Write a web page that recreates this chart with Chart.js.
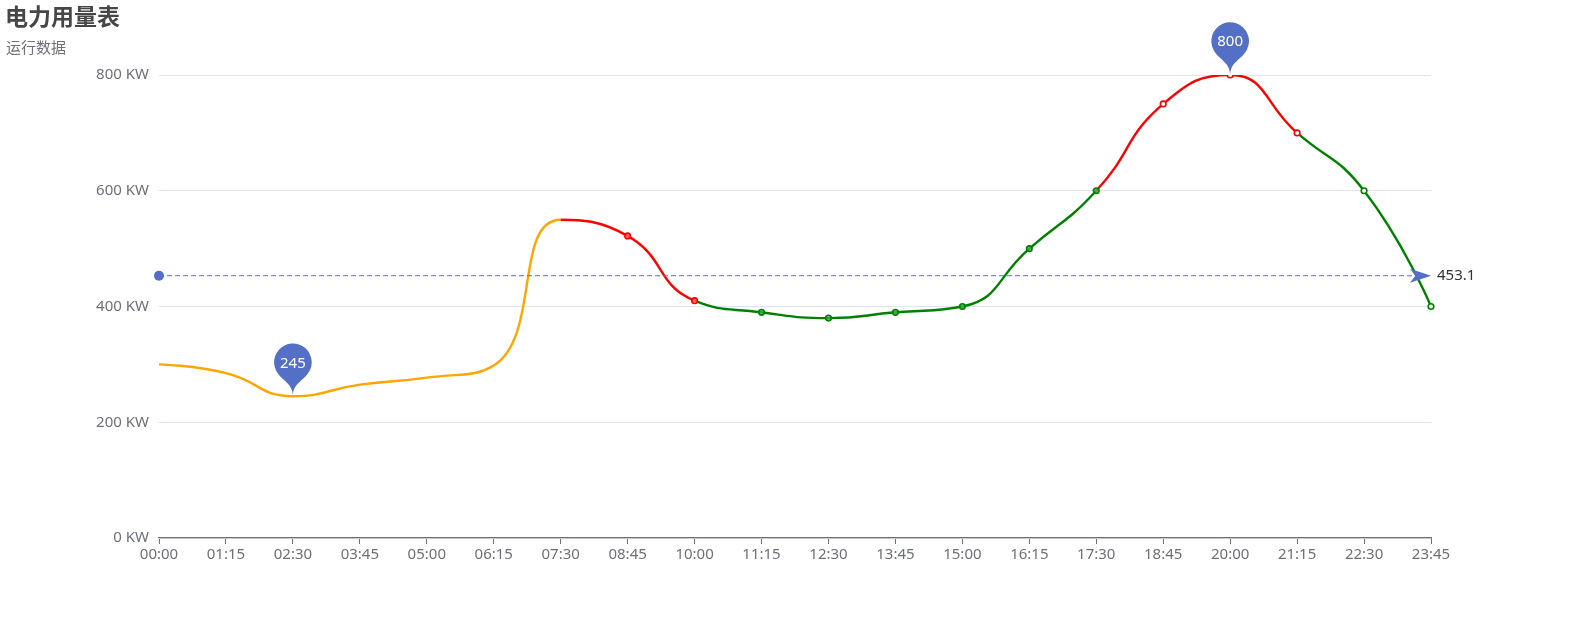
<!DOCTYPE html>
<html>
<head>
<meta charset="utf-8">
<script src="https://cdn.jsdelivr.net/npm/chart.js@4/dist/chart.umd.min.js"></script>
<style>
    body { margin: 0; background: #fff; }
    #wrap { width: 1590px; height: 625px; }
</style>
</head>
<body>
<div id="wrap"><canvas id="power_chart" width="1590" height="625"></canvas></div>
<script>
const times = ['00:00', '01:15', '02:30', '03:45', '05:00', '06:15', '07:30', '08:45', '10:00', '11:15',
    '12:30', '13:45', '15:00', '16:15', '17:30', '18:45', '20:00', '21:15', '22:30', '23:45'];
const usage = [300, 285, 245, 265, 277, 298, 550, 522, 410, 390, 380, 390, 400, 500, 600, 750, 800, 700, 600, 400];
const yTicks = [0, 200, 400, 600, 800];

// visualMap pieces (by data index)
const pieceLimits = [6, 8, 14, 17, 99];
const pieceColors = ['orange', 'red', 'green', 'red', 'green'];

const titleText = '电力用量表';
const subText = '运行数据';

const MARK_COLOR = '#5470c6';
const AXIS_COLOR = '#6E7079';
const SMOOTH = 0.5;

function pieceColor(i) {
    for (let k = 0; k < pieceLimits.length; k++) {
        if (i <= pieceLimits[k]) return pieceColors[k];
    }
    return pieceColors[pieceColors.length - 1];
}

function pointFill(i) {
    if (i <= 8) return 'rgba(255, 110, 110, 0.75)';
    if (i <= 14) return 'rgba(80, 170, 80, 0.75)';
    return '#fff';
}

function clamp(v, a, b) {
    return Math.max(Math.min(v, Math.max(a, b)), Math.min(a, b));
}

// echarts style smoothing: control points are kept inside the box of the neighbours,
// so the curve never overshoots a peak
const smoothPlugin = {
    id: 'smoothLine',
    beforeDatasetsDraw(chart) {
        chart.getSortedVisibleDatasetMetas().forEach(meta => {
            if (meta.type !== 'line') return;
            meta.dataset.updateControlPoints(chart.chartArea, meta.indexAxis);
            const pts = meta.data;
            const n = pts.length;
            for (let i = 0; i < n; i++) {
                const p = pts[i];
                if (i === 0 || i === n - 1) {
                    p.cp1x = p.x; p.cp1y = p.y;
                    p.cp2x = p.x; p.cp2y = p.y;
                    continue;
                }
                const prev = pts[i - 1];
                const next = pts[i + 1];
                let vx = next.x - prev.x;
                let vy = next.y - prev.y;
                const lenPrev = Math.hypot(p.x - prev.x, p.y - prev.y);
                const lenNext = Math.hypot(next.x - p.x, next.y - p.y);
                const ratio = lenNext / (lenNext + lenPrev);

                let ncx = clamp(p.x + vx * SMOOTH * ratio, next.x, p.x);
                let ncy = clamp(p.y + vy * SMOOTH * ratio, next.y, p.y);
                vx = ncx - p.x;
                vy = ncy - p.y;
                let cx = clamp(p.x - vx * lenPrev / lenNext, prev.x, p.x);
                let cy = clamp(p.y - vy * lenPrev / lenNext, prev.y, p.y);
                vx = p.x - cx;
                vy = p.y - cy;
                ncx = p.x + vx * lenNext / lenPrev;
                ncy = p.y + vy * lenNext / lenPrev;

                p.cp1x = cx; p.cp1y = cy;
                p.cp2x = ncx; p.cp2y = ncy;
            }
        });
    }
};

// pin shape like echarts 'pin' symbol, tip at (x, y)
function drawPin(ctx, x, y, r, u) {
    const dy = r * r / u;
    const cy = y - u + dy;
    const angle = Math.asin(dy / r);
    const dx = Math.cos(angle) * r;
    const tanX = Math.sin(angle);
    const tanY = Math.cos(angle);
    const cpLen = r * 0.6;
    const cpLen2 = r * 0.7;
    ctx.beginPath();
    ctx.moveTo(x - dx, cy + dy);
    ctx.arc(x, cy, r, Math.PI - angle, Math.PI * 2 + angle);
    ctx.bezierCurveTo(x + dx - tanX * cpLen, cy + dy + tanY * cpLen, x, y - cpLen2, x, y);
    ctx.bezierCurveTo(x, y - cpLen2, x - dx + tanX * cpLen, cy + dy + tanY * cpLen, x - dx, cy + dy);
    ctx.closePath();
    ctx.fill();
    return cy;
}

const titlePlugin = {
    id: 'titles',
    beforeDraw(chart) {
        const ctx = chart.ctx;
        ctx.save();
        ctx.textAlign = 'left';
        ctx.textBaseline = 'middle';
        ctx.fillStyle = '#464646';
        ctx.font = "bold 23px 'Noto Sans CJK SC', sans-serif";
        ctx.fillText(titleText, 5, 16);
        ctx.fillStyle = AXIS_COLOR;
        ctx.font = "15px 'Noto Sans CJK SC', sans-serif";
        ctx.fillText(subText, 6, 47);
        ctx.restore();
    }
};

const marksPlugin = {
    id: 'marks',
    afterDatasetsDraw(chart) {
        const ctx = chart.ctx;
        const xs = chart.scales.x;
        const ys = chart.scales.y;
        const area = chart.chartArea;

        // average line
        const avg = usage.reduce((a, b) => a + b, 0) / usage.length;
        const ya = ys.getPixelForValue(avg);
        ctx.save();
        ctx.strokeStyle = MARK_COLOR;
        ctx.fillStyle = MARK_COLOR;
        ctx.lineWidth = 1.2;
        ctx.setLineDash([5, 3]);
        ctx.beginPath();
        ctx.moveTo(area.left, ya);
        ctx.lineTo(area.right - 12, ya);
        ctx.stroke();
        ctx.setLineDash([]);

        ctx.beginPath();
        ctx.arc(area.left, ya, 5, 0, Math.PI * 2);
        ctx.fill();

        // arrow (notched triangle pointing right)
        const tip = area.right;
        const len = 21;
        ctx.beginPath();
        ctx.moveTo(tip, ya);
        ctx.lineTo(tip - len, ya - 7);
        ctx.lineTo(tip - len * 0.75, ya);
        ctx.lineTo(tip - len, ya + 7);
        ctx.closePath();
        ctx.fill();

        ctx.fillStyle = '#333';
        ctx.font = "15px 'Noto Sans', sans-serif";
        ctx.textAlign = 'left';
        ctx.textBaseline = 'middle';
        ctx.fillText(avg.toFixed(1), tip + 6, ya);

        // min / max pins
        const minV = Math.min(...usage);
        const maxV = Math.max(...usage);
        [[usage.indexOf(minV), minV], [usage.indexOf(maxV), maxV]].forEach(([i, v]) => {
            const px = xs.getPixelForValue(i);
            const py = ys.getPixelForValue(v);
            ctx.fillStyle = MARK_COLOR;
            const cy = drawPin(ctx, px, py, 18.8, 42.3);
            ctx.fillStyle = '#fff';
            ctx.textAlign = 'center';
            ctx.fillText(String(v), px, cy + 1);
        });
        ctx.restore();
    }
};

(function () {
    const canvas = document.getElementById('power_chart');

    Chart.defaults.font.family = "'Noto Sans', 'Noto Sans CJK SC', sans-serif";
    Chart.defaults.font.size = 15;
    Chart.defaults.color = AXIS_COLOR;

    new Chart(canvas, {
        type: 'line',
        data: {
            labels: times,
            datasets: [{
                label: '用电量',
                data: usage,
                tension: 0.4,
                borderWidth: 2.4,
                borderColor: ctx => pieceColor(ctx.dataIndex),
                segment: {
                    // chart.js applies the style one segment late, so look at p1
                    borderColor: ctx => pieceColor(ctx.p1DataIndex)
                },
                pointRadius: ctx => ctx.dataIndex < 7 ? 0 : 2.8,
                pointBorderWidth: 1.6,
                pointBorderColor: ctx => pieceColor(ctx.dataIndex),
                pointBackgroundColor: ctx => pointFill(ctx.dataIndex),
                fill: false
            }]
        },
        options: {
            responsive: false,
            animation: false,
            devicePixelRatio: 1,
            events: [],
            layout: {
                padding: { left: 0, right: 159, top: 75, bottom: 57 }
            },
            plugins: {
                legend: { display: false },
                tooltip: { enabled: false }
            },
            scales: {
                x: {
                    offset: false,
                    grid: {
                        display: true,
                        drawOnChartArea: false,
                        drawTicks: true,
                        tickLength: 6,
                        color: AXIS_COLOR
                    },
                    border: { display: true, color: AXIS_COLOR, width: 1.2 },
                    ticks: {
                        autoSkip: false,
                        maxRotation: 0,
                        padding: 2,
                        color: AXIS_COLOR
                    },
                    afterFit: scale => { scale.height = 30; }
                },
                y: {
                    min: 0,
                    max: 800,
                    afterBuildTicks: scale => {
                        scale.ticks = yTicks.map(v => ({ value: v }));
                    },
                    grid: {
                        color: '#E0E6F1',
                        drawTicks: false
                    },
                    border: { display: false },
                    ticks: {
                        padding: 10,
                        color: AXIS_COLOR,
                        callback: v => v + ' KW'
                    },
                    afterFit: scale => { scale.width = 159; }
                }
            }
        },
        plugins: [titlePlugin, smoothPlugin, marksPlugin]
    });
})();
</script>
</body>
</html>
